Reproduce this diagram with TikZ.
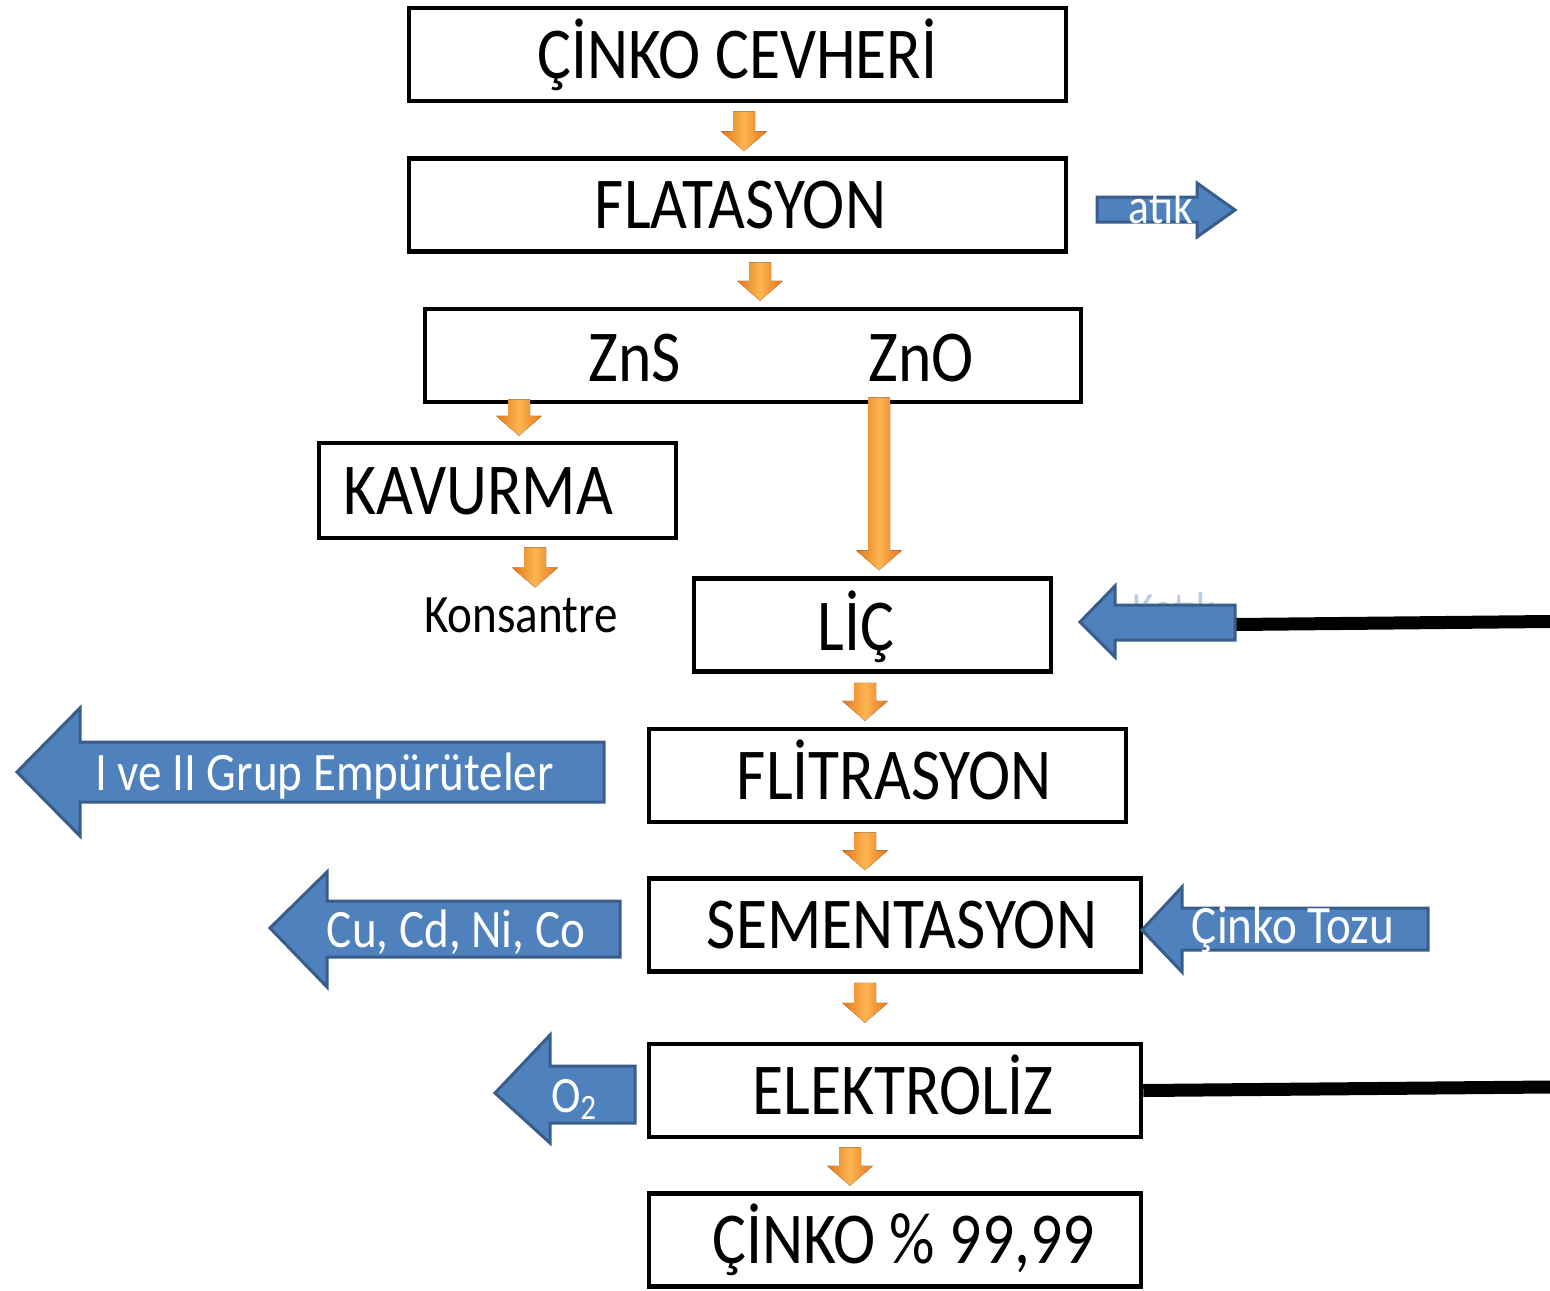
\documentclass[tikz,border=0pt]{standalone}
\usepackage{fontspec}
\setmainfont{Carlito}[FakeStretch=0.87]
\usepackage{tikz}
\usetikzlibrary{calc}

\definecolor{arrowblue}{HTML}{4F81BD}
\definecolor{arrowedge}{HTML}{385D8A}
\definecolor{flowlight}{HTML}{FDB552}
\definecolor{flowdark}{HTML}{E3761A}

\tikzset{
  stage/.style={draw, line width=0.045cm, minimum height=0.93cm, inner sep=0pt},
  stagetext/.style={inner sep=0pt, text height=0.47cm, text depth=0pt, font=\fontsize{20.8}{25}\selectfont},
  sidearrow/.style={fill=arrowblue, draw=arrowedge, line width=0.03cm, line join=miter},
  sidetext/.style={text=white, inner sep=0pt, anchor=base, font=\fontsize{15.4}{18}\selectfont},
  flowfill/.style={left color=flowdark, right color=flowdark, middle color=flowlight},
  feedline/.style={line width=0.13cm},
}

% orange block arrow: #1 top of shaft, #2 tip (x taken from #1)
\newcommand{\flowarrow}[2]{%
  \fill[flowfill] let \p1=#1, \p2=#2 in
    (\x1-0.11cm,\y1) -- (\x1+0.11cm,\y1) -- (\x1+0.11cm,\y2+0.2cm) -- (\x1+0.23cm,\y2+0.2cm)
    -- (\x1,\y2) -- (\x1-0.23cm,\y2+0.2cm) -- (\x1-0.11cm,\y2+0.2cm) -- cycle;}

\begin{document}
\begin{tikzpicture}
\useasboundingbox (0,0) rectangle (15.5,-12.9);

% process boxes
\node[stage, minimum width=6.57cm] (cevher) at (7.375,-0.545) {};
\node[stagetext] (cevher-t) at (cevher.center) {ÇİNKO CEVHERİ};
\node[stage, minimum width=6.57cm] (flat) at (7.375,-2.05) {};
\node[stagetext] (flat-t) at ([xshift=0.03cm]flat.center) {FLATASYON};
\node[stage, minimum width=6.56cm] (zn) at (7.53,-3.555) {};
\node[stagetext] (zns) at ([xshift=-1.18cm,yshift=-0.02cm]zn.center) {ZnS};
\node[stagetext] (zno) at ([xshift=1.68cm,yshift=-0.02cm]zn.center) {ZnO};
\node[stage, minimum width=3.57cm, minimum height=0.95cm] (kavurma) at (4.975,-4.905) {};
\node[stagetext] (kavurma-t) at ([xshift=-0.195cm]kavurma.center) {KAVURMA};
\node[sidetext, text=black] (kons) at (5.21,-6.32) {Konsantre};
\node[stage, minimum width=3.57cm] (lic) at (8.725,-6.25) {};
\node[stagetext] (lic-t) at ([xshift=-0.165cm,yshift=-0.02cm]lic.center) {LİÇ};
\node[stage, minimum width=4.77cm] (flit) at (8.875,-7.755) {};
\node[stagetext] (flit-t) at ([xshift=0.07cm]flit.center) {FLİTRASYON};
\node[stage, minimum width=4.92cm] (sement) at (8.95,-9.25) {};
\node[stagetext] (sement-t) at ([xshift=0.07cm]sement.center) {SEMENTASYON};
\node[stage, minimum width=4.92cm] (elekt) at (8.95,-10.905) {};
\node[stagetext] (elekt-t) at ([xshift=0.08cm]elekt.center) {ELEKTROLİZ};
\node[stage, minimum width=4.92cm] (cinko) at (8.95,-12.40) {};
\node[stagetext] (cinko-t) at ([xshift=0.085cm]cinko.center) {ÇİNKO \% 99,99};

% main flow
\flowarrow{([xshift=0.065cm,yshift=-0.08cm]cevher.south)}{([yshift=0.05cm]flat.north)}
\flowarrow{([xshift=0.225cm,yshift=-0.085cm]flat.south)}{([yshift=0.06cm]zn.north)}
\flowarrow{([xshift=-2.34cm,yshift=0.05cm]zn.south)}{([yshift=0.05cm]kavurma.north)}
\flowarrow{([xshift=0.375cm,yshift=-0.07cm]kavurma.south)}{([yshift=0.09cm]kons.north)}
\flowarrow{([xshift=1.26cm,yshift=0.07cm]zn.south)}{([yshift=0.06cm]lic.north)}
\flowarrow{([xshift=-0.075cm,yshift=-0.09cm]lic.south)}{([yshift=0.06cm]flit.north)}
\flowarrow{([xshift=-0.225cm,yshift=-0.08cm]flit.south)}{([yshift=0.06cm]sement.north)}
\flowarrow{([xshift=-0.30cm,yshift=-0.09cm]sement.south)}{([yshift=0.19cm]elekt.north)}
\flowarrow{([xshift=-0.45cm,yshift=-0.08cm]elekt.south)}{([yshift=0.055cm]cinko.north)}

% side streams
\draw[sidearrow] (10.97,-1.97) -- (11.97,-1.97) -- (11.97,-1.83) -- (12.35,-2.10)
  -- (11.97,-2.37) -- (11.97,-2.22) -- (10.97,-2.22) -- cycle;
\node[sidetext, font=\fontsize{14.2}{17}\selectfont] (atik) at (11.61,-2.23) {atık};

\coordinate (katik-end) at (12.35,-6.245);
\coordinate (katik-far) at (15.5,-6.215);
\draw[feedline] (katik-end) -- (katik-far);
\node[sidetext, text=arrowblue!40, font=\fontsize{13.6}{16}\selectfont] (katik) at (11.74,-6.25) {Katık};
\draw[sidearrow] (10.80,-6.22) -- (11.15,-5.86) -- (11.15,-6.05) -- (12.35,-6.05)
  -- (12.35,-6.40) -- (11.15,-6.40) -- (11.15,-6.57) -- cycle;

\draw[sidearrow] (0.17,-7.72) -- (0.80,-7.08) -- (0.80,-7.42) -- (6.04,-7.42)
  -- (6.04,-8.02) -- (0.80,-8.02) -- (0.80,-8.36) -- cycle;
\node[sidetext] (grup) at (3.245,-7.90) {I ve II Grup Empürüteler};

\draw[sidearrow] (2.70,-9.28) -- (3.27,-8.72) -- (3.27,-9.01) -- (6.20,-9.01)
  -- (6.20,-9.57) -- (3.27,-9.57) -- (3.27,-9.87) -- cycle;
\node[sidetext] (metals) at (4.56,-9.47) {Cu, Cd, Ni, Co};

\draw[sidearrow] (11.42,-9.30) -- (11.82,-8.87) -- (11.82,-9.08) -- (14.28,-9.08)
  -- (14.28,-9.50) -- (11.82,-9.50) -- (11.82,-9.72) -- cycle;
\node[sidetext] (tozu) at (12.93,-9.43) {Çinko Tozu};

\draw[sidearrow] (4.95,-10.93) -- (5.50,-10.35) -- (5.50,-10.66) -- (6.35,-10.66)
  -- (6.35,-11.23) -- (5.50,-11.23) -- (5.50,-11.43) -- cycle;
\node[sidetext, font=\fontsize{14.5}{17}\selectfont] (oxygen) at (5.745,-11.12) {O\textsubscript{2}};

\coordinate (elekt-far) at (15.5,-10.87);
\draw[feedline] (elekt.east) -- (elekt-far);
\end{tikzpicture}
\end{document}
